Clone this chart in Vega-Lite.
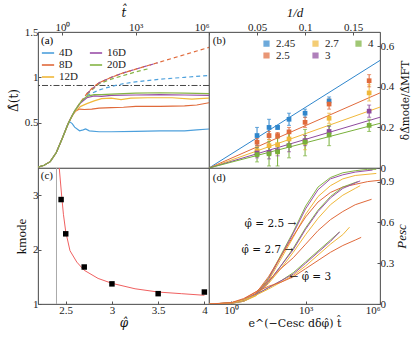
{
"$schema": "https://vega.github.io/schema/vega-lite/v6.json",
"padding": {"left": 6, "top": 5, "right": 5, "bottom": 5},
"config": {
  "font": "Liberation Serif",
  "view": {"stroke": "#555", "strokeWidth": 0.8},
  "axis": {"grid": false, "labelFont": "Liberation Serif", "labelFontSize": 11, "titleFont": "Liberation Serif", "titleFontSize": 13, "titleFontWeight": "normal", "domainColor": "#555", "tickColor": "#555", "labelColor": "#222", "titleColor": "#111", "tickSize": -3, "labelPadding": 3, "domainWidth": 0.8},
  "legend": {"labelFont": "Liberation Serif", "titleFont": "Liberation Serif", "labelFontSize": 11, "titleFontSize": 11, "titleFontWeight": "normal", "labelColor": "#222"},
  "text": {"font": "Liberation Serif"}
},
"columns": 2,
"spacing": 0,
"bounds": "flush",
"resolve": {"scale": {"color": "independent", "x": "independent", "y": "independent"}, "legend": {"color": "independent"}},
"datasets": {
  "aSolid": [
    {"s":"4D","lt":-1,"v":0.01},{"s":"4D","lt":-0.75,"v":0.03},{"s":"4D","lt":-0.5,"v":0.07},{"s":"4D","lt":-0.25,"v":0.17},{"s":"4D","lt":0,"v":0.33},{"s":"4D","lt":0.2,"v":0.47},{"s":"4D","lt":0.3,"v":0.51},{"s":"4D","lt":0.4,"v":0.49},{"s":"4D","lt":0.5,"v":0.45},{"s":"4D","lt":0.7,"v":0.41},{"s":"4D","lt":0.85,"v":0.42},{"s":"4D","lt":0.95,"v":0.43},{"s":"4D","lt":1.1,"v":0.41},{"s":"4D","lt":1.5,"v":0.40},{"s":"4D","lt":2,"v":0.40},{"s":"4D","lt":3,"v":0.405},{"s":"4D","lt":4,"v":0.41},{"s":"4D","lt":5,"v":0.41},{"s":"4D","lt":5.5,"v":0.42},{"s":"4D","lt":6,"v":0.43},
    {"s":"8D","lt":-1,"v":0.01},{"s":"8D","lt":-0.75,"v":0.03},{"s":"8D","lt":-0.5,"v":0.07},{"s":"8D","lt":-0.25,"v":0.17},{"s":"8D","lt":0,"v":0.33},{"s":"8D","lt":0.25,"v":0.5},{"s":"8D","lt":0.4,"v":0.58},{"s":"8D","lt":0.55,"v":0.63},{"s":"8D","lt":0.7,"v":0.65},{"s":"8D","lt":0.9,"v":0.645},{"s":"8D","lt":1.2,"v":0.65},{"s":"8D","lt":1.5,"v":0.66},{"s":"8D","lt":2,"v":0.665},{"s":"8D","lt":2.5,"v":0.67},{"s":"8D","lt":3,"v":0.68},{"s":"8D","lt":4,"v":0.68},{"s":"8D","lt":5,"v":0.685},{"s":"8D","lt":5.5,"v":0.695},{"s":"8D","lt":6,"v":0.72},
    {"s":"12D","lt":-1,"v":0.01},{"s":"12D","lt":-0.75,"v":0.03},{"s":"12D","lt":-0.5,"v":0.07},{"s":"12D","lt":-0.25,"v":0.17},{"s":"12D","lt":0,"v":0.33},{"s":"12D","lt":0.25,"v":0.5},{"s":"12D","lt":0.5,"v":0.62},{"s":"12D","lt":0.75,"v":0.68},{"s":"12D","lt":1,"v":0.71},{"s":"12D","lt":1.3,"v":0.74},{"s":"12D","lt":1.6,"v":0.765},{"s":"12D","lt":2,"v":0.77},{"s":"12D","lt":2.4,"v":0.755},{"s":"12D","lt":2.8,"v":0.77},{"s":"12D","lt":3.5,"v":0.775},{"s":"12D","lt":4.5,"v":0.775},{"s":"12D","lt":5.3,"v":0.76},{"s":"12D","lt":5.6,"v":0.765},{"s":"12D","lt":6,"v":0.77},
    {"s":"16D","lt":-1,"v":0.01},{"s":"16D","lt":-0.75,"v":0.03},{"s":"16D","lt":-0.5,"v":0.07},{"s":"16D","lt":-0.25,"v":0.17},{"s":"16D","lt":0,"v":0.33},{"s":"16D","lt":0.25,"v":0.5},{"s":"16D","lt":0.5,"v":0.63},{"s":"16D","lt":0.75,"v":0.72},{"s":"16D","lt":1,"v":0.775},{"s":"16D","lt":1.3,"v":0.795},{"s":"16D","lt":1.6,"v":0.79},{"s":"16D","lt":2,"v":0.80},{"s":"16D","lt":3,"v":0.805},{"s":"16D","lt":4,"v":0.81},{"s":"16D","lt":5,"v":0.805},{"s":"16D","lt":6,"v":0.80},
    {"s":"20D","lt":-1,"v":0.01},{"s":"20D","lt":-0.75,"v":0.03},{"s":"20D","lt":-0.5,"v":0.07},{"s":"20D","lt":-0.25,"v":0.17},{"s":"20D","lt":0,"v":0.33},{"s":"20D","lt":0.25,"v":0.5},{"s":"20D","lt":0.5,"v":0.63},{"s":"20D","lt":0.75,"v":0.73},{"s":"20D","lt":1,"v":0.79},{"s":"20D","lt":1.3,"v":0.81},{"s":"20D","lt":1.6,"v":0.81},{"s":"20D","lt":2,"v":0.815},{"s":"20D","lt":3,"v":0.825},{"s":"20D","lt":4,"v":0.83},{"s":"20D","lt":5,"v":0.825},{"s":"20D","lt":6,"v":0.82}
  ],
  "aDash": [
    {"s":"4D","lt":0.8,"v":0.74},{"s":"4D","lt":1,"v":0.80},{"s":"4D","lt":1.5,"v":0.86},{"s":"4D","lt":2,"v":0.90},{"s":"4D","lt":2.5,"v":0.93},{"s":"4D","lt":3,"v":0.95},{"s":"4D","lt":4,"v":0.98},{"s":"4D","lt":5,"v":1.0},{"s":"4D","lt":6,"v":1.02},
    {"s":"20D","lt":1,"v":0.81},{"s":"20D","lt":1.5,"v":0.93},{"s":"20D","lt":2,"v":0.98},{"s":"20D","lt":2.5,"v":1.02},{"s":"20D","lt":3,"v":1.06},{"s":"20D","lt":3.6,"v":1.10},
    {"s":"12D","lt":1,"v":0.82},{"s":"12D","lt":1.5,"v":0.94},{"s":"12D","lt":2,"v":1.0},{"s":"12D","lt":2.5,"v":1.05},{"s":"12D","lt":2.8,"v":1.07},
    {"s":"16D","lt":1,"v":0.82},{"s":"16D","lt":1.5,"v":0.94},{"s":"16D","lt":2,"v":1.0},{"s":"16D","lt":2.5,"v":1.05},{"s":"16D","lt":3,"v":1.09},{"s":"16D","lt":3.5,"v":1.13},{"s":"16D","lt":3.9,"v":1.16},
    {"s":"8D","lt":0.6,"v":0.67},{"s":"8D","lt":0.75,"v":0.73},{"s":"8D","lt":1,"v":0.82},{"s":"8D","lt":1.25,"v":0.89},{"s":"8D","lt":1.5,"v":0.94},{"s":"8D","lt":2,"v":1.0},{"s":"8D","lt":2.5,"v":1.05},{"s":"8D","lt":3,"v":1.09},{"s":"8D","lt":3.5,"v":1.13},{"s":"8D","lt":4,"v":1.17},{"s":"8D","lt":4.5,"v":1.21},{"s":"8D","lt":5,"v":1.25},{"s":"8D","lt":5.5,"v":1.29},{"s":"8D","lt":6,"v":1.33}
  ],
  "bPts": [
    {"g":"2.45","x":0.05,"y":0.16,"lo":0.11,"hi":0.20},{"g":"2.45","x":0.0625,"y":0.20,"lo":0.15,"hi":0.24},{"g":"2.45","x":0.0714,"y":0.20,"lo":0.19,"hi":0.21},{"g":"2.45","x":0.0833,"y":0.24,"lo":0.21,"hi":0.27},{"g":"2.45","x":0.1,"y":0.27,"lo":0.25,"hi":0.29},{"g":"2.45","x":0.125,"y":0.33,"lo":0.31,"hi":0.35},
    {"g":"2.5","x":0.05,"y":0.127,"lo":0.11,"hi":0.145},{"g":"2.5","x":0.0625,"y":0.16,"lo":0.14,"hi":0.18},{"g":"2.5","x":0.0714,"y":0.16,"lo":0.145,"hi":0.175},{"g":"2.5","x":0.0833,"y":0.178,"lo":0.15,"hi":0.20},{"g":"2.5","x":0.1,"y":0.225,"lo":0.2,"hi":0.25},{"g":"2.5","x":0.125,"y":0.315,"lo":0.29,"hi":0.34},{"g":"2.5","x":0.1667,"y":0.43,"lo":0.40,"hi":0.46},
    {"g":"2.7","x":0.05,"y":0.085,"lo":0.065,"hi":0.105},{"g":"2.7","x":0.0625,"y":0.11,"lo":0.08,"hi":0.14},{"g":"2.7","x":0.0714,"y":0.115,"lo":0.07,"hi":0.16},{"g":"2.7","x":0.0833,"y":0.143,"lo":0.11,"hi":0.175},{"g":"2.7","x":0.1,"y":0.127,"lo":0.09,"hi":0.16},{"g":"2.7","x":0.125,"y":0.245,"lo":0.22,"hi":0.27},{"g":"2.7","x":0.1667,"y":0.37,"lo":0.33,"hi":0.41},
    {"g":"3","x":0.05,"y":0.074,"lo":0.05,"hi":0.10},{"g":"3","x":0.0625,"y":0.077,"lo":0.045,"hi":0.11},{"g":"3","x":0.0714,"y":0.085,"lo":0.06,"hi":0.11},{"g":"3","x":0.0833,"y":0.11,"lo":0.08,"hi":0.14},{"g":"3","x":0.1,"y":0.135,"lo":0.11,"hi":0.16},{"g":"3","x":0.125,"y":0.18,"lo":0.155,"hi":0.205},{"g":"3","x":0.1667,"y":0.28,"lo":0.25,"hi":0.31},
    {"g":"4","x":0.05,"y":0.066,"lo":0.03,"hi":0.10},{"g":"4","x":0.0625,"y":0.07,"lo":0.01,"hi":0.13},{"g":"4","x":0.0714,"y":0.08,"lo":0.01,"hi":0.15},{"g":"4","x":0.0833,"y":0.11,"lo":0.05,"hi":0.17},{"g":"4","x":0.1,"y":0.128,"lo":0.06,"hi":0.19},{"g":"4","x":0.125,"y":0.163,"lo":0.11,"hi":0.21},{"g":"4","x":0.1667,"y":0.21,"lo":0.18,"hi":0.24}
  ],
  "bFit": [
    {"g":"2.45","x":0,"y":0},{"g":"2.45","x":0.178,"y":0.53},
    {"g":"2.5","x":0,"y":0},{"g":"2.5","x":0.178,"y":0.37},
    {"g":"2.7","x":0,"y":0},{"g":"2.7","x":0.178,"y":0.30},
    {"g":"3","x":0,"y":0},{"g":"3","x":0.178,"y":0.25},
    {"g":"4","x":0,"y":0},{"g":"4","x":0.178,"y":0.22}
  ],
  "cPts": [
    {"phi":2.45,"k":2.92},{"phi":2.5,"k":2.29},{"phi":2.7,"k":1.68},{"phi":3.0,"k":1.37},{"phi":3.5,"k":1.19},{"phi":4.0,"k":1.22}
  ],
  "cFit": [
    {"phi":2.43,"k":3.5},{"phi":2.457,"k":2.97},{"phi":2.475,"k":2.65},{"phi":2.5,"k":2.33},{"phi":2.546,"k":1.98},{"phi":2.62,"k":1.77},{"phi":2.7,"k":1.62},{"phi":2.85,"k":1.47},{"phi":3.0,"k":1.38},{"phi":3.25,"k":1.28},{"phi":3.5,"k":1.22},{"phi":3.75,"k":1.19},{"phi":4.0,"k":1.16}
  ],
  "dCurves": [
    {"s":"20D","p":"2.5","lt":-0.9,"P":0},{"s":"20D","p":"2.5","lt":0,"P":0.005},{"s":"20D","p":"2.5","lt":0.5,"P":0.02},{"s":"20D","p":"2.5","lt":1,"P":0.07},{"s":"20D","p":"2.5","lt":1.5,"P":0.19},{"s":"20D","p":"2.5","lt":2,"P":0.36},{"s":"20D","p":"2.5","lt":2.5,"P":0.53},{"s":"20D","p":"2.5","lt":3,"P":0.72},{"s":"20D","p":"2.5","lt":3.5,"P":0.86},{"s":"20D","p":"2.5","lt":4,"P":0.93},{"s":"20D","p":"2.5","lt":4.5,"P":0.965},{"s":"20D","p":"2.5","lt":5,"P":0.98},{"s":"20D","p":"2.5","lt":5.5,"P":0.99},{"s":"20D","p":"2.5","lt":5.85,"P":0.99},
    {"s":"16D","p":"2.5","lt":-0.9,"P":0},{"s":"16D","p":"2.5","lt":0,"P":0.005},{"s":"16D","p":"2.5","lt":0.5,"P":0.02},{"s":"16D","p":"2.5","lt":1,"P":0.065},{"s":"16D","p":"2.5","lt":1.5,"P":0.18},{"s":"16D","p":"2.5","lt":2,"P":0.35},{"s":"16D","p":"2.5","lt":2.5,"P":0.52},{"s":"16D","p":"2.5","lt":3,"P":0.70},{"s":"16D","p":"2.5","lt":3.5,"P":0.84},{"s":"16D","p":"2.5","lt":4,"P":0.92},{"s":"16D","p":"2.5","lt":4.5,"P":0.95},{"s":"16D","p":"2.5","lt":5,"P":0.97},{"s":"16D","p":"2.5","lt":5.7,"P":0.985},
    {"s":"12D","p":"2.5","lt":-0.9,"P":0},{"s":"12D","p":"2.5","lt":0,"P":0.005},{"s":"12D","p":"2.5","lt":0.5,"P":0.02},{"s":"12D","p":"2.5","lt":1,"P":0.06},{"s":"12D","p":"2.5","lt":1.5,"P":0.17},{"s":"12D","p":"2.5","lt":2,"P":0.33},{"s":"12D","p":"2.5","lt":2.5,"P":0.49},{"s":"12D","p":"2.5","lt":3,"P":0.66},{"s":"12D","p":"2.5","lt":3.5,"P":0.79},{"s":"12D","p":"2.5","lt":4,"P":0.87},{"s":"12D","p":"2.5","lt":4.5,"P":0.92},{"s":"12D","p":"2.5","lt":5,"P":0.945},{"s":"12D","p":"2.5","lt":5.85,"P":0.96},
    {"s":"8D","p":"2.5","lt":-0.9,"P":0},{"s":"8D","p":"2.5","lt":0,"P":0.008},{"s":"8D","p":"2.5","lt":0.5,"P":0.03},{"s":"8D","p":"2.5","lt":1,"P":0.08},{"s":"8D","p":"2.5","lt":1.5,"P":0.2},{"s":"8D","p":"2.5","lt":2,"P":0.35},{"s":"8D","p":"2.5","lt":2.5,"P":0.5},{"s":"8D","p":"2.5","lt":3,"P":0.64},{"s":"8D","p":"2.5","lt":3.5,"P":0.75},{"s":"8D","p":"2.5","lt":4,"P":0.82},{"s":"8D","p":"2.5","lt":4.5,"P":0.86},{"s":"8D","p":"2.5","lt":5,"P":0.88},{"s":"8D","p":"2.5","lt":5.5,"P":0.9},{"s":"8D","p":"2.5","lt":6,"P":0.91},
    {"s":"20D","p":"2.7","lt":-0.9,"P":0},{"s":"20D","p":"2.7","lt":0,"P":0.006},{"s":"20D","p":"2.7","lt":0.5,"P":0.025},{"s":"20D","p":"2.7","lt":1,"P":0.07},{"s":"20D","p":"2.7","lt":1.5,"P":0.16},{"s":"20D","p":"2.7","lt":2,"P":0.28},{"s":"20D","p":"2.7","lt":2.5,"P":0.41},{"s":"20D","p":"2.7","lt":3,"P":0.56},{"s":"20D","p":"2.7","lt":3.5,"P":0.69},{"s":"20D","p":"2.7","lt":4,"P":0.79},{"s":"20D","p":"2.7","lt":4.5,"P":0.86},{"s":"20D","p":"2.7","lt":5.1,"P":0.90},
    {"s":"16D","p":"2.7","lt":-0.9,"P":0},{"s":"16D","p":"2.7","lt":0,"P":0.006},{"s":"16D","p":"2.7","lt":0.5,"P":0.025},{"s":"16D","p":"2.7","lt":1,"P":0.07},{"s":"16D","p":"2.7","lt":1.5,"P":0.16},{"s":"16D","p":"2.7","lt":2,"P":0.28},{"s":"16D","p":"2.7","lt":2.5,"P":0.40},{"s":"16D","p":"2.7","lt":3,"P":0.55},{"s":"16D","p":"2.7","lt":3.5,"P":0.68},{"s":"16D","p":"2.7","lt":4,"P":0.78},{"s":"16D","p":"2.7","lt":4.5,"P":0.85},{"s":"16D","p":"2.7","lt":5,"P":0.89},{"s":"16D","p":"2.7","lt":5.2,"P":0.905},
    {"s":"12D","p":"2.7","lt":-0.9,"P":0},{"s":"12D","p":"2.7","lt":0,"P":0.006},{"s":"12D","p":"2.7","lt":0.5,"P":0.025},{"s":"12D","p":"2.7","lt":1,"P":0.065},{"s":"12D","p":"2.7","lt":1.5,"P":0.15},{"s":"12D","p":"2.7","lt":2,"P":0.26},{"s":"12D","p":"2.7","lt":2.5,"P":0.38},{"s":"12D","p":"2.7","lt":3,"P":0.51},{"s":"12D","p":"2.7","lt":3.5,"P":0.63},{"s":"12D","p":"2.7","lt":4,"P":0.73},{"s":"12D","p":"2.7","lt":4.5,"P":0.80},{"s":"12D","p":"2.7","lt":5,"P":0.85},{"s":"12D","p":"2.7","lt":5.2,"P":0.87},
    {"s":"8D","p":"2.7","lt":-0.9,"P":0},{"s":"8D","p":"2.7","lt":0,"P":0.008},{"s":"8D","p":"2.7","lt":0.5,"P":0.035},{"s":"8D","p":"2.7","lt":1,"P":0.09},{"s":"8D","p":"2.7","lt":1.5,"P":0.17},{"s":"8D","p":"2.7","lt":2,"P":0.26},{"s":"8D","p":"2.7","lt":2.5,"P":0.34},{"s":"8D","p":"2.7","lt":3,"P":0.44},{"s":"8D","p":"2.7","lt":3.5,"P":0.54},{"s":"8D","p":"2.7","lt":4,"P":0.62},{"s":"8D","p":"2.7","lt":4.5,"P":0.68},{"s":"8D","p":"2.7","lt":5,"P":0.73},{"s":"8D","p":"2.7","lt":5.66,"P":0.77},
    {"s":"20D","p":"3","lt":-0.9,"P":0},{"s":"20D","p":"3","lt":0,"P":0.008},{"s":"20D","p":"3","lt":0.5,"P":0.03},{"s":"20D","p":"3","lt":1,"P":0.07},{"s":"20D","p":"3","lt":1.5,"P":0.12},{"s":"20D","p":"3","lt":2,"P":0.17},{"s":"20D","p":"3","lt":2.5,"P":0.23},{"s":"20D","p":"3","lt":3,"P":0.31},{"s":"20D","p":"3","lt":3.5,"P":0.39},{"s":"20D","p":"3","lt":4,"P":0.47},{"s":"20D","p":"3","lt":4.37,"P":0.53},
    {"s":"16D","p":"3","lt":-0.9,"P":0},{"s":"16D","p":"3","lt":0,"P":0.008},{"s":"16D","p":"3","lt":0.5,"P":0.03},{"s":"16D","p":"3","lt":1,"P":0.07},{"s":"16D","p":"3","lt":1.5,"P":0.12},{"s":"16D","p":"3","lt":2,"P":0.17},{"s":"16D","p":"3","lt":2.5,"P":0.22},{"s":"16D","p":"3","lt":3,"P":0.30},{"s":"16D","p":"3","lt":3.5,"P":0.38},{"s":"16D","p":"3","lt":4,"P":0.46},{"s":"16D","p":"3","lt":4.37,"P":0.53},
    {"s":"12D","p":"3","lt":-0.9,"P":0},{"s":"12D","p":"3","lt":0,"P":0.008},{"s":"12D","p":"3","lt":0.5,"P":0.03},{"s":"12D","p":"3","lt":1,"P":0.065},{"s":"12D","p":"3","lt":1.5,"P":0.11},{"s":"12D","p":"3","lt":2,"P":0.16},{"s":"12D","p":"3","lt":2.5,"P":0.21},{"s":"12D","p":"3","lt":3,"P":0.28},{"s":"12D","p":"3","lt":3.5,"P":0.36},{"s":"12D","p":"3","lt":4,"P":0.44},{"s":"12D","p":"3","lt":4.5,"P":0.51},{"s":"12D","p":"3","lt":4.77,"P":0.565},
    {"s":"8D","p":"3","lt":-0.9,"P":0},{"s":"8D","p":"3","lt":0,"P":0.01},{"s":"8D","p":"3","lt":0.5,"P":0.04},{"s":"8D","p":"3","lt":1,"P":0.09},{"s":"8D","p":"3","lt":1.5,"P":0.13},{"s":"8D","p":"3","lt":2,"P":0.16},{"s":"8D","p":"3","lt":2.5,"P":0.20},{"s":"8D","p":"3","lt":3,"P":0.26},{"s":"8D","p":"3","lt":3.5,"P":0.32},{"s":"8D","p":"3","lt":4,"P":0.38},{"s":"8D","p":"3","lt":4.5,"P":0.43},{"s":"8D","p":"3","lt":5,"P":0.47},{"s":"8D","p":"3","lt":5.24,"P":0.49}
  ]
},
"concat": [
  {
    "width": 171, "height": 136,
    "layer": [
      {"data": {"values": [{"v": 0.91}]}, "mark": {"type": "rule", "color": "#333", "strokeWidth": 0.9, "strokeDash": [6, 2, 1.5, 2]},
       "encoding": {"y": {"field": "v", "type": "quantitative", "scale": {"domain": [0, 1.5], "nice": false, "zero": false}}}},
      {"data": {"name": "aDash"}, "mark": {"type": "line", "strokeWidth": 1.2, "strokeDash": [4, 3], "clip": true},
       "encoding": {
         "x": {"field": "lt", "type": "quantitative", "scale": {"domain": [-1, 6], "nice": false, "zero": false}},
         "y": {"field": "v", "type": "quantitative", "scale": {"domain": [0, 1.5], "nice": false, "zero": false}},
         "detail": {"field": "s"},
         "color": {"field": "s", "type": "nominal", "scale": {"domain": ["4D","8D","12D","16D","20D"], "range": ["#4da0dc","#e06a3b","#f0b83a","#9a4fa8","#85b545"]}}
       }},
      {"data": {"name": "aSolid"}, "mark": {"type": "line", "strokeWidth": 1.2, "clip": true},
       "encoding": {
         "x": {"field": "lt", "type": "quantitative", "scale": {"domain": [-1, 6], "nice": false, "zero": false}, "axis": {"orient": "top", "title": "t̂", "titleFont": "DejaVu Serif", "titleFontSize": 12, "titleFontStyle": "italic", "values": [0, 3, 6], "labelExpr": "datum.value == 0 ? '10⁰' : datum.value == 3 ? '10³' : '10⁶'", "titlePadding": 2}},
         "y": {"field": "v", "type": "quantitative", "scale": {"domain": [0, 1.5], "nice": false, "zero": false}, "axis": {"title": "Δ̂(t)", "titleFont": "DejaVu Serif", "titleFontSize": 12, "values": [0.5, 1, 1.5], "labelExpr": "datum.value", "titlePadding": 4}},
         "color": {"field": "s", "type": "nominal", "scale": {"domain": ["4D","8D","12D","16D","20D"], "range": ["#4da0dc","#e06a3b","#f0b83a","#9a4fa8","#85b545"]},
           "legend": {"title": "(a)", "orient": "top-left", "offset": 3, "columns": 2, "symbolType": "stroke", "symbolSize": 150, "symbolStrokeWidth": 1.6, "rowPadding": 0, "columnPadding": 8, "labelFontSize": 11, "titlePadding": 0, "padding": 0}}
       }}
    ]
  },
  {
    "width": 171, "height": 136,
    "layer": [
      {"data": {"name": "bFit"}, "mark": {"type": "line", "strokeWidth": 1, "clip": true},
       "encoding": {
         "x": {"field": "x", "type": "quantitative", "scale": {"domain": [0, 0.178], "nice": false}, "axis": {"orient": "top", "title": "1/d", "titleFontStyle": "italic", "values": [0.05, 0.1, 0.15], "labelExpr": "datum.value", "titlePadding": 2}},
         "y": {"field": "y", "type": "quantitative", "scale": {"domain": [0, 0.67], "nice": false}, "axis": {"orient": "right", "title": "δΔ̂mode/Δ̂MFT", "titleFont": "DejaVu Serif", "titleFontSize": 10.5, "titleAngle": 270, "values": [0, 0.2, 0.4, 0.6], "labelExpr": "datum.value", "titlePadding": 17}},
         "color": {"field": "g", "type": "nominal", "scale": {"domain": ["2.45","2.5","2.7","3","4"], "range": ["#2f86cc","#e06a3b","#f0b83a","#8e4a9e","#78b03a"]}}
       }},
      {"data": {"name": "bPts"}, "mark": {"type": "rule", "strokeWidth": 1},
       "encoding": {
         "x": {"field": "x", "type": "quantitative", "scale": {"domain": [0, 0.178], "nice": false}},
         "y": {"field": "lo", "type": "quantitative", "scale": {"domain": [0, 0.67], "nice": false}},
         "y2": {"field": "hi"},
         "color": {"field": "g", "type": "nominal"}
       }},
      {"data": {"name": "bPts"}, "mark": {"type": "tick", "orient": "horizontal", "size": 4, "thickness": 1},
       "encoding": {
         "x": {"field": "x", "type": "quantitative", "scale": {"domain": [0, 0.178], "nice": false}},
         "y": {"field": "lo", "type": "quantitative", "scale": {"domain": [0, 0.67], "nice": false}},
         "color": {"field": "g", "type": "nominal"}
       }},
      {"data": {"name": "bPts"}, "mark": {"type": "tick", "orient": "horizontal", "size": 4, "thickness": 1},
       "encoding": {
         "x": {"field": "x", "type": "quantitative", "scale": {"domain": [0, 0.178], "nice": false}},
         "y": {"field": "hi", "type": "quantitative", "scale": {"domain": [0, 0.67], "nice": false}},
         "color": {"field": "g", "type": "nominal"}
       }},
      {"data": {"name": "bPts"}, "mark": {"type": "point", "shape": "square", "filled": true, "size": 22, "opacity": 1},
       "encoding": {
         "x": {"field": "x", "type": "quantitative", "scale": {"domain": [0, 0.178], "nice": false}},
         "y": {"field": "y", "type": "quantitative", "scale": {"domain": [0, 0.67], "nice": false}},
         "color": {"field": "g", "type": "nominal", "legend": {"title": null, "orient": "top-right", "offset": 6, "columns": 3, "symbolType": "square", "symbolSize": 22, "labelFontSize": 11, "rowPadding": 0, "columnPadding": 14, "padding": 0}}
       }},
      {"data": {"values": [{"x": 0.004, "y": 0.625, "t": "(b)"}]}, "mark": {"type": "text", "align": "left", "baseline": "middle", "fontSize": 11, "color": "#111"},
       "encoding": {"x": {"field": "x", "type": "quantitative", "scale": {"domain": [0, 0.178], "nice": false}}, "y": {"field": "y", "type": "quantitative", "scale": {"domain": [0, 0.67], "nice": false}}, "text": {"field": "t"}}}
    ]
  },
  {
    "width": 171, "height": 136,
    "layer": [
      {"data": {"values": [{"phi": 2.40}]}, "mark": {"type": "rule", "color": "#aaa", "strokeWidth": 1},
       "encoding": {"x": {"field": "phi", "type": "quantitative", "scale": {"domain": [2.2, 4.05], "nice": false, "zero": false}}}},
      {"data": {"name": "cFit"}, "mark": {"type": "line", "color": "#f06060", "strokeWidth": 1, "clip": true},
       "encoding": {
         "x": {"field": "phi", "type": "quantitative", "scale": {"domain": [2.2, 4.05], "nice": false, "zero": false}, "axis": {"title": "φ̂", "titleFont": "DejaVu Serif", "titleFontSize": 12, "titleFontStyle": "italic", "values": [2.5, 3, 3.5, 4], "labelExpr": "datum.value", "titlePadding": 2}},
         "y": {"field": "k", "type": "quantitative", "scale": {"domain": [1, 3.5], "nice": false, "zero": false}, "axis": {"title": "kmode", "values": [1, 1.5, 2, 2.5, 3, 3.5], "labelExpr": "datum.value", "titlePadding": 4}}
       }},
      {"data": {"name": "cPts"}, "mark": {"type": "square", "color": "#000", "size": 30, "opacity": 1},
       "encoding": {"x": {"field": "phi", "type": "quantitative", "scale": {"domain": [2.2, 4.05], "nice": false, "zero": false}}, "y": {"field": "k", "type": "quantitative", "scale": {"domain": [1, 3.5], "nice": false, "zero": false}}}},
      {"data": {"values": [{"phi": 2.23, "k": 3.36, "t": "(c)"}]}, "mark": {"type": "text", "align": "left", "baseline": "middle", "fontSize": 11, "color": "#111"},
       "encoding": {"x": {"field": "phi", "type": "quantitative", "scale": {"domain": [2.2, 4.05], "nice": false, "zero": false}}, "y": {"field": "k", "type": "quantitative", "scale": {"domain": [1, 3.5], "nice": false, "zero": false}}, "text": {"field": "t"}}}
    ]
  },
  {
    "width": 171, "height": 136,
    "layer": [
      {"data": {"name": "dCurves"}, "mark": {"type": "line", "strokeWidth": 1, "clip": true},
       "encoding": {
         "x": {"field": "lt", "type": "quantitative", "scale": {"domain": [-0.9, 6], "nice": false, "zero": false}, "axis": {"title": "e^(−Cesc dδφ̂) t̂", "titleFont": "DejaVu Serif", "titleFontSize": 11, "values": [0, 3, 6], "labelExpr": "datum.value == 0 ? '10⁰' : datum.value == 3 ? '10³' : '10⁶'", "titlePadding": 2}},
         "y": {"field": "P", "type": "quantitative", "scale": {"domain": [0, 1], "nice": false}, "axis": {"orient": "right", "title": "Pesc", "titleFontStyle": "italic", "titleAngle": 270, "values": [0, 0.3, 0.6, 0.9], "labelExpr": "datum.value", "titlePadding": 15}},
         "detail": {"field": "p"},
         "color": {"field": "s", "type": "nominal", "legend": null, "scale": {"domain": ["8D","12D","16D","20D"], "range": ["#e06a3b","#f0b83a","#9a4fa8","#85b545"]}}
       }},
      {"data": {"values": [
          {"lt": 2.62, "P": 0.59, "t": "φ̂ = 2.5 →"},
          {"lt": 2.5, "P": 0.40, "t": "φ̂ = 2.7 →"}
        ]}, "mark": {"type": "text", "align": "right", "baseline": "middle", "fontSize": 10.5, "font": "DejaVu Serif", "color": "#111"},
       "encoding": {"x": {"field": "lt", "type": "quantitative", "scale": {"domain": [-0.9, 6], "nice": false, "zero": false}}, "y": {"field": "P", "type": "quantitative", "scale": {"domain": [0, 1], "nice": false}}, "text": {"field": "t"}}},
      {"data": {"values": [{"lt": 2.35, "P": 0.20, "t": "← φ̂ = 3"}]}, "mark": {"type": "text", "align": "left", "baseline": "middle", "fontSize": 10.5, "font": "DejaVu Serif", "color": "#111"},
       "encoding": {"x": {"field": "lt", "type": "quantitative", "scale": {"domain": [-0.9, 6], "nice": false, "zero": false}}, "y": {"field": "P", "type": "quantitative", "scale": {"domain": [0, 1], "nice": false}}, "text": {"field": "t"}}},
      {"data": {"values": [{"lt": -0.75, "P": 0.93, "t": "(d)"}]}, "mark": {"type": "text", "align": "left", "baseline": "middle", "fontSize": 11, "color": "#111"},
       "encoding": {"x": {"field": "lt", "type": "quantitative", "scale": {"domain": [-0.9, 6], "nice": false, "zero": false}}, "y": {"field": "P", "type": "quantitative", "scale": {"domain": [0, 1], "nice": false}}, "text": {"field": "t"}}}
    ]
  }
]
}
